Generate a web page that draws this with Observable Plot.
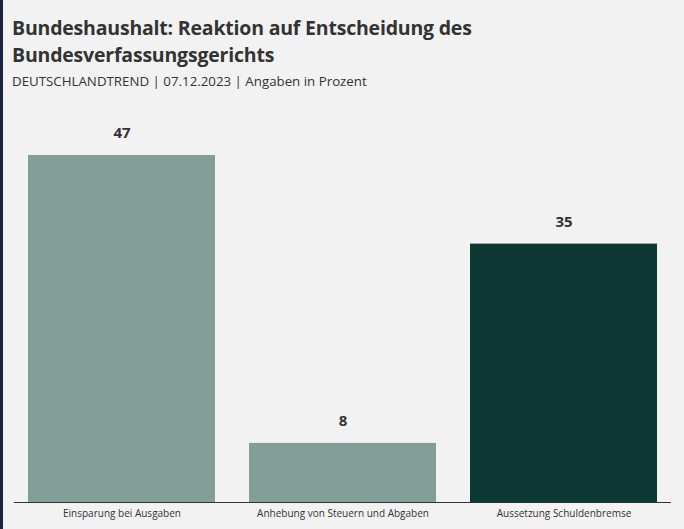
<!DOCTYPE html>
<html>
<head>
<meta charset="utf-8">
<script src="https://cdn.jsdelivr.net/npm/d3@7"></script>
<script src="https://cdn.jsdelivr.net/npm/@observablehq/plot@0.6"></script>
<style>
  html, body { margin: 0; padding: 0; background: #f2f2f2; }
  body { width: 684px; height: 529px; overflow: hidden; position: relative; font-family: "Open Sans", sans-serif; }
  #border { position: absolute; left: 0; top: 0; width: 3px; height: 529px; background: #1e2540; }
  #title { position: absolute; left: 12px; top: 14px; font-size: 19.5px; font-weight: 700; line-height: 27px; color: #333; letter-spacing: -0.2px; white-space: nowrap; }
  #subtitle { position: absolute; left: 12px; top: 72px; font-size: 13.3px; color: #333; white-space: nowrap; }
  #chart { position: absolute; left: 0; top: 100px; }
</style>
</head>
<body>
<div id="border"></div>
<div id="title">Bundeshaushalt: Reaktion auf Entscheidung des<br>Bundesverfassungsgerichts</div>
<div id="subtitle">DEUTSCHLANDTREND | 07.12.2023 | Angaben in Prozent</div>
<div id="chart"></div>
<script>
const categories = ["Einsparung bei Ausgaben", "Anhebung von Steuern und Abgaben", "Aussetzung Schuldenbremse"];
const values = [47, 8, 35];
const colors = ["#829e99", "#829e99", "#0d3833"];

const data = categories.map((c, i) => ({category: c, value: values[i], color: colors[i]}));

const chart = Plot.plot({
  width: 684,
  height: 429,
  marginTop: 55,
  marginBottom: 27,
  marginLeft: 14,
  marginRight: 13,
  style: {background: "transparent", fontFamily: "Open Sans, sans-serif"},
  x: {domain: categories, paddingInner: 0.154, paddingOuter: 0.063, label: null},
  y: {domain: [0, 47], axis: null},
  marks: [
    Plot.barY(data, {x: "category", y: "value", fill: "color"}),
    Plot.ruleY([0], {stroke: "#333", strokeWidth: 1}),
    Plot.text(data, {x: "category", y: "value", text: d => String(d.value), dy: -22, fontSize: 15, fontWeight: 700, fill: "#333"}),
    Plot.axisX({tickSize: 0, tickPadding: 7, fontSize: 10, color: "#333", label: null})
  ]
});
document.getElementById("chart").appendChild(chart);
</script>
</body>
</html>
